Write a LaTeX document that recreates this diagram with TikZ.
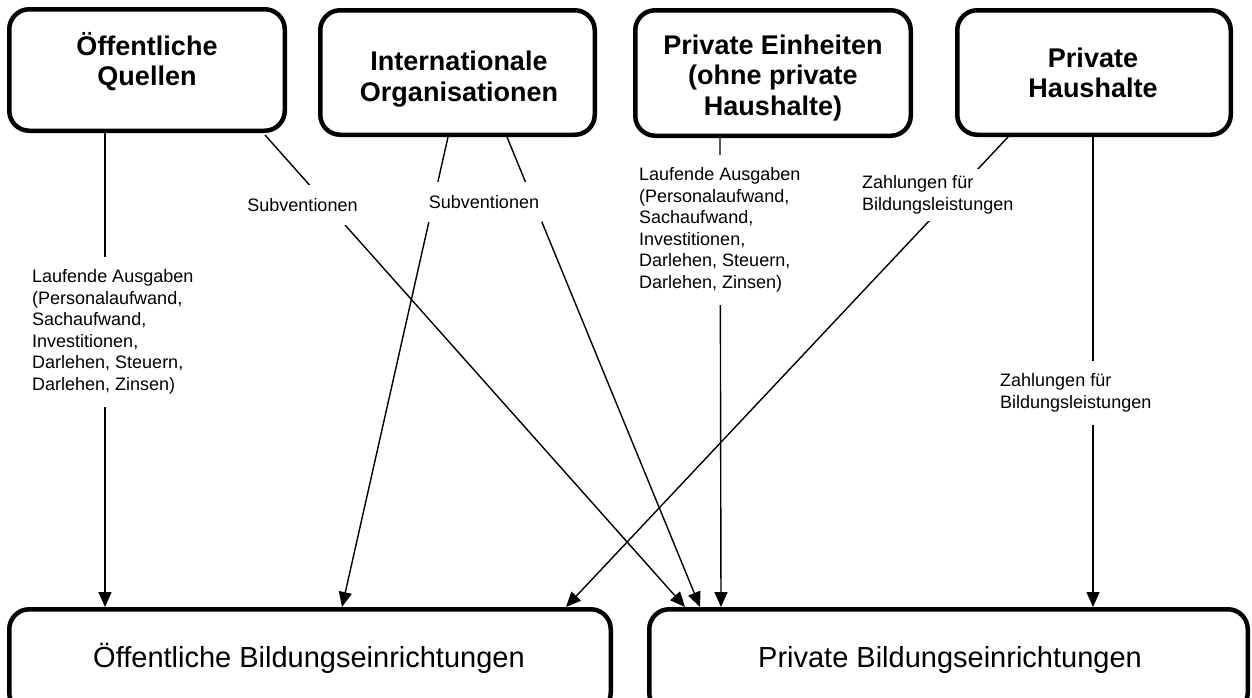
\documentclass[tikz,border=0pt]{standalone}
\usepackage{fontspec}
\setmainfont{Liberation Sans}
\usetikzlibrary{arrows.meta}
\begin{document}
\begin{tikzpicture}[x=1pt,y=-1pt,
  srcbox/.style={draw,line width=4.5pt,rounded corners=20pt,inner sep=0pt},
  title/.style={align=center,font=\fontsize{27}{30.5}\selectfont\bfseries,inner sep=0pt},
  dsttext/.style={font=\fontsize{29}{34}\selectfont,inner sep=0pt},
  flow/.style={line width=1.4pt,-{Triangle[length=15pt,width=13pt]}},
  lbl/.style={fill=white,align=left,font=\fontsize{18}{21.5}\selectfont,inner xsep=3pt,inner ysep=13pt}
]
\useasboundingbox (0,0) rectangle (1252,697);
\clip (0,0) rectangle (1252,697);

% source boxes
\node[srcbox,minimum width=275.5pt,minimum height=121.5pt] (q1) at (147,70) {};
\node[srcbox,minimum width=274.5pt,minimum height=124.5pt] (q2) at (457.5,72.5) {};
\node[srcbox,minimum width=275.5pt,minimum height=125.5pt] (q3) at (773,73) {};
\node[srcbox,minimum width=273.5pt,minimum height=124.5pt] (q4) at (1094,72.5) {};
\node[title] (t1) at (147,61.5) {Öffentliche\\Quellen};
\node[title] (t2) at (459,79) {Internationale\\Organisationen};
\node[title] (t3) at (773,78) {Private Einheiten\\(ohne private\\Haushalte)};
\node[title] (t4) at (1093,73) {Private\\Haushalte};

% destination boxes
\node[srcbox,minimum width=601.5pt,minimum height=103.5pt] (b5) at (310,661) {};
\node[srcbox,minimum width=598.5pt,minimum height=103.5pt] (b6) at (948.5,661) {};
\node[dsttext,anchor=base] (d5) at (309,667) {Öffentliche Bildungseinrichtungen};
\node[dsttext,anchor=base] (d6) at (950,667) {Private Bildungseinrichtungen};

% connectors
\draw[flow] (105,0 |- q1.south) -- (105,0 |- b5.north);
\draw[flow] (265,135) -- (685,0 |- b6.north);
\draw[flow] (448,0 |- q2.south) -- (342,0 |- b5.north);
\draw[flow] (507,0 |- q2.south) -- (700,0 |- b6.north);
\draw[flow] (720,0 |- q3.south) -- (721,0 |- b6.north);
\draw[flow] (1008,0 |- q4.south) -- (566,0 |- b5.north);
\draw[flow] (1093,0 |- q4.south) -- (1093,0 |- b6.north);

% labels
\node[lbl,anchor=west] (l1) at (29,332) {Laufende Ausgaben\\(Personalaufwand,\\Sachaufwand,\\Investitionen,\\Darlehen, Steuern,\\Darlehen, Zinsen)};
\node[lbl] (l2) at (302.5,205) {Subventionen};
\node[lbl] (l3) at (484,202) {Subventionen};
\node[lbl,anchor=west] (l4) at (636,230) {Laufende Ausgaben\\(Personalaufwand,\\Sachaufwand,\\Investitionen,\\Darlehen, Steuern,\\Darlehen, Zinsen)};
\node[lbl,anchor=west,inner ysep=7pt] (l5) at (859,195) {Zahlungen für\\Bildungsleistungen};
\node[lbl,anchor=west] (l6) at (997,393) {Zahlungen für\\Bildungsleistungen};
\end{tikzpicture}
\end{document}
